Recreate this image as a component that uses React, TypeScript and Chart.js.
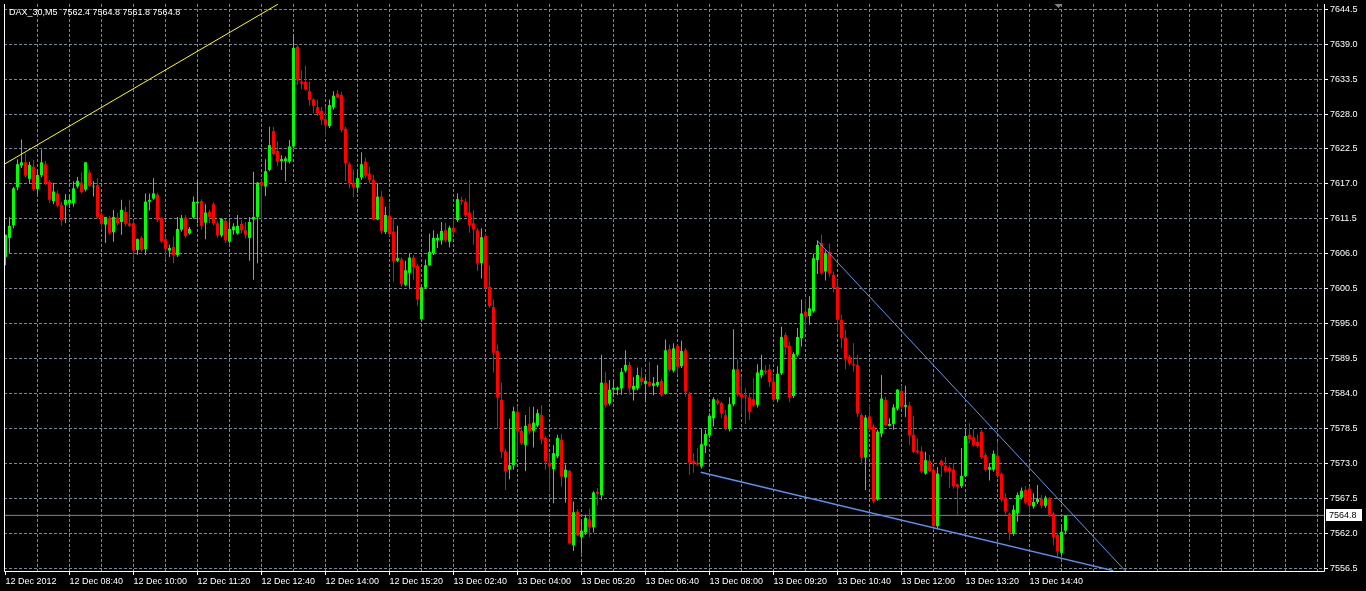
import { useEffect, useRef } from "react";
import { Chart, registerables } from "chart.js";

Chart.register(...registerables);

const symbolName = "DAX_30,M5";

const opens = [
  7605.5, 7608.5, 7610.5, 7616.5, 7619.9, 7620.4, 7617.8, 7619.7, 7616.2, 7618.4,
  7620.1, 7617.3, 7614.3, 7615.5, 7613.7, 7613.7, 7614.0, 7614.0, 7616.6, 7617.2,
  7616.1, 7618.8, 7616.6, 7616.8, 7612.2, 7610.6, 7611.6, 7609.4, 7611.7, 7611.0,
  7612.6, 7610.8, 7610.8, 7606.6, 7608.5, 7606.7, 7614.2, 7614.7, 7615.3, 7611.6,
  7608.3, 7606.5, 7607.1, 7605.8, 7609.8, 7611.7, 7609.2, 7611.7, 7614.0, 7614.3,
  7610.9, 7612.6, 7613.8, 7610.8, 7608.9, 7611.2, 7607.9, 7609.7, 7609.2, 7610.7,
  7609.7, 7608.5, 7611.4, 7611.8, 7617.3, 7616.6, 7619.2, 7625.3, 7622.2, 7620.6,
  7620.6, 7620.5, 7622.9, 7638.6, 7633.1, 7633.1, 7631.6, 7630.3, 7629.1, 7628.5,
  7627.2, 7626.1, 7629.1, 7631.2, 7631.0, 7625.7, 7620.1, 7617.2, 7616.4, 7618.0,
  7620.5, 7618.6, 7617.6, 7611.4, 7615.0, 7609.4, 7612.0, 7609.5, 7604.9, 7605.1,
  7601.1, 7603.0, 7605.4, 7604.1, 7595.7, 7600.7, 7604.2, 7606.1, 7608.1, 7608.1,
  7609.7, 7607.9, 7610.1, 7611.3, 7614.5, 7614.2, 7612.5, 7610.8, 7609.7, 7604.5,
  7608.8, 7600.8, 7597.6, 7590.7, 7583.0, 7574.9, 7572.0, 7572.7, 7581.1, 7578.1,
  7575.9, 7579.2, 7578.1, 7579.0, 7580.6, 7577.0, 7573.1, 7572.1, 7574.1, 7576.7,
  7570.8, 7571.8, 7560.1, 7565.4, 7561.4, 7562.1, 7564.2, 7562.9, 7568.5, 7568.0,
  7585.7, 7582.4, 7584.6, 7584.6, 7584.8, 7587.6, 7588.5, 7584.6, 7584.8, 7586.5,
  7585.5, 7585.8, 7585.2, 7585.3, 7586.0, 7584.0, 7591.0, 7587.6, 7591.5, 7588.3,
  7590.8, 7584.0, 7573.4, 7573.1, 7572.5, 7575.8, 7577.4, 7580.1, 7582.9, 7582.5,
  7580.6, 7578.4, 7582.3, 7587.8, 7584.0, 7583.7, 7583.4, 7583.1, 7582.2, 7586.9,
  7587.6, 7587.8, 7585.9, 7583.1, 7587.2, 7593.2, 7591.5, 7583.6, 7590.1, 7592.7,
  7596.9, 7596.2, 7597.0, 7605.0, 7607.7, 7603.2, 7606.3, 7602.7, 7600.8, 7595.6,
  7592.8, 7589.8, 7588.6, 7588.5, 7580.6, 7573.9, 7580.4, 7578.8, 7567.3, 7577.7,
  7583.0, 7578.9, 7579.2, 7581.6, 7584.4, 7581.9, 7582.1, 7577.5, 7575.0, 7574.9,
  7571.4, 7573.4, 7572.0, 7563.1, 7573.4, 7572.6, 7572.3, 7572.0, 7569.7, 7569.4,
  7571.0, 7577.5, 7577.1, 7576.4, 7578.0, 7574.3, 7572.0, 7572.0, 7574.2, 7571.3,
  7567.6, 7565.1, 7561.9, 7565.2, 7567.6, 7568.8, 7569.0, 7566.2, 7566.9, 7567.4,
  7566.3, 7567.5, 7565.1, 7561.7, 7558.9, 7562.4,
];

const highs = [
  7609.0, 7611.8, 7616.5, 7620.9, 7624.0, 7621.8, 7620.5, 7620.8, 7619.2, 7622.4,
  7620.6, 7617.6, 7617.2, 7616.0, 7614.2, 7615.4, 7615.3, 7617.4, 7618.1, 7618.8,
  7620.4, 7619.2, 7617.4, 7617.9, 7612.5, 7611.8, 7612.0, 7612.9, 7612.4, 7614.5,
  7613.4, 7614.5, 7611.3, 7608.4, 7608.8, 7615.5, 7615.5, 7617.9, 7615.6, 7611.8,
  7608.7, 7607.4, 7608.7, 7611.8, 7612.1, 7612.1, 7610.2, 7615.0, 7617.6, 7614.6,
  7613.8, 7612.9, 7614.1, 7611.1, 7611.6, 7611.5, 7611.0, 7610.8, 7612.1, 7611.3,
  7611.0, 7611.8, 7618.9, 7617.3, 7617.6, 7620.9, 7626.0, 7626.0, 7623.7, 7621.5,
  7621.3, 7623.9, 7640.6, 7638.9, 7634.9, 7635.6, 7633.1, 7630.5, 7630.3, 7629.1,
  7629.2, 7630.3, 7631.6, 7631.8, 7631.5, 7626.0, 7620.4, 7619.3, 7619.3, 7622.0,
  7621.1, 7619.7, 7618.4, 7617.1, 7615.9, 7613.4, 7614.0, 7611.6, 7610.4, 7605.4,
  7604.9, 7606.0, 7605.8, 7604.4, 7600.9, 7605.1, 7609.2, 7609.7, 7609.1, 7611.0,
  7610.9, 7610.4, 7612.1, 7615.5, 7615.0, 7614.7, 7617.6, 7612.9, 7610.0, 7610.0,
  7609.2, 7604.2, 7598.8, 7591.7, 7585.7, 7575.3, 7580.0, 7581.9, 7582.0, 7578.8,
  7580.6, 7581.9, 7581.9, 7581.5, 7582.2, 7577.3, 7574.6, 7575.9, 7577.5, 7577.6,
  7572.8, 7572.0, 7567.0, 7565.8, 7563.8, 7564.9, 7565.9, 7568.6, 7569.1, 7590.1,
  7587.4, 7586.1, 7585.9, 7585.1, 7588.0, 7590.8, 7589.0, 7586.6, 7588.1, 7588.1,
  7586.7, 7589.0, 7586.6, 7588.5, 7586.3, 7592.5, 7591.7, 7591.9, 7591.7, 7592.3,
  7591.1, 7584.3, 7574.6, 7575.4, 7578.5, 7578.3, 7580.9, 7583.4, 7583.2, 7582.7,
  7581.4, 7583.4, 7594.1, 7589.4, 7586.5, 7584.8, 7583.9, 7586.4, 7588.6, 7590.1,
  7588.5, 7588.6, 7586.9, 7588.3, 7594.5, 7593.6, 7592.2, 7590.5, 7594.3, 7598.8,
  7598.9, 7599.3, 7606.0, 7608.1, 7609.0, 7606.5, 7607.6, 7603.2, 7601.9, 7596.4,
  7594.0, 7590.1, 7591.9, 7590.1, 7580.9, 7580.6, 7582.3, 7579.1, 7578.3, 7586.9,
  7583.5, 7580.1, 7582.3, 7584.7, 7585.2, 7585.2, 7582.7, 7580.5, 7576.9, 7575.7,
  7574.8, 7574.3, 7572.3, 7572.4, 7573.6, 7574.0, 7572.7, 7573.0, 7569.8, 7575.4,
  7578.4, 7579.3, 7578.4, 7577.5, 7578.3, 7574.6, 7573.0, 7575.0, 7576.4, 7571.5,
  7568.3, 7565.2, 7566.4, 7568.4, 7569.2, 7569.4, 7569.3, 7568.3, 7569.6, 7568.0,
  7567.9, 7567.7, 7565.4, 7562.0, 7563.1, 7564.8,
];

const lows = [
  7604.2, 7606.1, 7610.0, 7616.0, 7619.5, 7618.0, 7617.0, 7615.9, 7615.4, 7618.0,
  7616.8, 7614.0, 7613.8, 7613.3, 7610.4, 7610.8, 7613.2, 7613.4, 7616.3, 7615.5,
  7615.8, 7616.5, 7615.0, 7611.5, 7610.0, 7607.7, 7609.0, 7607.9, 7610.5, 7609.0,
  7610.3, 7610.2, 7604.8, 7605.8, 7606.3, 7605.8, 7612.8, 7614.5, 7611.0, 7607.7,
  7605.1, 7605.5, 7604.5, 7605.5, 7609.5, 7608.5, 7609.0, 7611.5, 7610.8, 7609.8,
  7608.3, 7610.8, 7610.5, 7608.5, 7608.6, 7607.7, 7607.6, 7609.0, 7609.0, 7609.2,
  7608.4, 7604.9, 7601.9, 7604.5, 7611.3, 7615.1, 7619.0, 7621.5, 7619.8, 7619.2,
  7617.4, 7620.2, 7622.6, 7632.6, 7631.9, 7631.7, 7629.3, 7628.1, 7627.7, 7626.3,
  7624.4, 7625.8, 7628.7, 7630.5, 7625.1, 7617.4, 7616.3, 7614.9, 7615.6, 7617.6,
  7617.9, 7617.0, 7611.3, 7611.3, 7609.1, 7609.1, 7608.8, 7601.6, 7604.7, 7600.8,
  7600.9, 7600.4, 7601.9, 7597.8, 7595.5, 7600.4, 7604.1, 7605.8, 7606.9, 7607.4,
  7607.8, 7607.0, 7609.0, 7611.0, 7613.7, 7611.8, 7609.3, 7607.4, 7603.3, 7602.1,
  7600.3, 7597.5, 7587.3, 7578.5, 7573.8, 7568.8, 7570.5, 7572.0, 7574.1, 7575.9,
  7571.8, 7577.6, 7575.5, 7578.7, 7576.0, 7572.0, 7568.4, 7566.7, 7573.8, 7569.3,
  7566.8, 7560.2, 7559.2, 7561.5, 7558.8, 7561.7, 7561.4, 7562.1, 7566.4, 7567.2,
  7581.8, 7582.1, 7583.4, 7583.7, 7583.8, 7587.3, 7583.8, 7582.9, 7584.5, 7585.3,
  7582.6, 7585.0, 7583.7, 7585.0, 7583.5, 7583.8, 7587.4, 7587.3, 7587.0, 7588.0,
  7583.5, 7571.2, 7571.5, 7572.6, 7572.2, 7574.6, 7577.0, 7578.8, 7582.2, 7580.1,
  7578.2, 7578.0, 7582.0, 7583.5, 7580.8, 7579.2, 7579.8, 7581.9, 7581.8, 7586.4,
  7587.0, 7585.0, 7582.7, 7582.6, 7586.9, 7590.1, 7582.6, 7583.3, 7589.8, 7591.4,
  7594.1, 7594.8, 7596.7, 7602.8, 7602.7, 7601.8, 7602.3, 7599.9, 7593.7, 7591.1,
  7587.8, 7588.4, 7587.4, 7580.3, 7572.8, 7568.8, 7578.1, 7566.7, 7567.1, 7577.1,
  7578.8, 7578.8, 7578.3, 7581.3, 7581.6, 7580.3, 7575.9, 7574.6, 7574.5, 7571.4,
  7571.2, 7571.6, 7562.5, 7562.6, 7570.9, 7571.5, 7569.1, 7569.0, 7564.9, 7569.1,
  7570.8, 7576.2, 7575.6, 7575.5, 7573.7, 7571.7, 7570.3, 7571.7, 7570.7, 7567.0,
  7564.9, 7560.9, 7561.6, 7563.8, 7567.3, 7566.5, 7565.2, 7565.9, 7566.6, 7565.9,
  7566.0, 7564.6, 7560.1, 7558.3, 7558.6, 7561.8,
];

const closes = [
  7609.0, 7610.4, 7616.3, 7620.1, 7620.4, 7618.3, 7620.0, 7616.2, 7618.4, 7620.4,
  7617.1, 7614.5, 7615.8, 7613.6, 7611.3, 7614.5, 7614.5, 7616.3, 7617.5, 7615.7,
  7620.4, 7616.7, 7616.7, 7611.8, 7610.7, 7611.8, 7609.3, 7611.8, 7610.8, 7612.9,
  7610.7, 7610.4, 7606.5, 7608.3, 7606.6, 7614.2, 7614.5, 7615.5, 7611.3, 7608.0,
  7606.8, 7606.9, 7605.8, 7609.9, 7611.6, 7608.8, 7609.9, 7614.2, 7614.2, 7610.4,
  7612.5, 7611.8, 7610.8, 7608.9, 7611.5, 7608.1, 7609.9, 7610.3, 7610.4, 7609.7,
  7609.0, 7611.0, 7611.8, 7617.2, 7616.7, 7619.0, 7623.1, 7621.7, 7620.5, 7620.9,
  7621.0, 7622.9, 7638.4, 7633.3, 7632.8, 7631.9, 7630.2, 7629.3, 7628.1, 7627.1,
  7626.3, 7629.4, 7630.9, 7630.6, 7625.5, 7620.3, 7617.1, 7616.5, 7617.9, 7620.1,
  7618.3, 7617.6, 7611.4, 7615.0, 7609.6, 7612.1, 7609.1, 7604.8, 7605.3, 7601.2,
  7603.4, 7605.4, 7603.9, 7598.8, 7600.7, 7604.2, 7606.3, 7608.5, 7608.5, 7609.6,
  7608.1, 7610.1, 7609.4, 7614.6, 7614.3, 7612.1, 7610.5, 7609.9, 7604.5, 7608.6,
  7600.6, 7597.8, 7590.4, 7583.4, 7574.8, 7571.7, 7572.7, 7581.2, 7578.0, 7576.2,
  7578.9, 7578.0, 7579.4, 7580.9, 7576.8, 7573.3, 7572.5, 7574.6, 7577.0, 7570.9,
  7572.0, 7560.4, 7565.3, 7561.7, 7562.4, 7564.4, 7562.9, 7568.4, 7568.2, 7585.7,
  7582.2, 7584.6, 7584.9, 7584.9, 7587.4, 7588.5, 7584.8, 7585.2, 7586.9, 7585.8,
  7586.0, 7585.2, 7585.6, 7585.8, 7583.8, 7590.8, 7587.7, 7591.1, 7588.2, 7590.7,
  7584.3, 7573.1, 7573.0, 7572.8, 7576.0, 7577.6, 7580.5, 7583.1, 7582.5, 7580.9,
  7578.5, 7582.3, 7587.8, 7583.8, 7583.4, 7583.5, 7581.1, 7582.2, 7587.3, 7587.7,
  7587.3, 7585.8, 7583.0, 7587.1, 7592.9, 7591.3, 7583.4, 7590.2, 7592.9, 7596.6,
  7596.1, 7597.4, 7605.3, 7607.4, 7603.0, 7606.1, 7602.9, 7600.6, 7595.6, 7592.7,
  7589.4, 7588.8, 7588.4, 7580.9, 7573.9, 7580.2, 7578.4, 7567.0, 7578.0, 7583.2,
  7579.0, 7579.2, 7581.8, 7584.6, 7581.9, 7582.2, 7577.4, 7574.8, 7574.7, 7571.7,
  7573.5, 7571.8, 7563.1, 7571.4, 7572.7, 7571.8, 7571.7, 7569.4, 7569.3, 7571.0,
  7577.3, 7576.8, 7575.9, 7575.7, 7574.0, 7572.0, 7572.4, 7574.5, 7571.0, 7567.3,
  7565.4, 7562.1, 7565.7, 7568.0, 7568.7, 7566.8, 7566.3, 7566.9, 7567.4, 7566.4,
  7567.6, 7564.9, 7561.4, 7559.1, 7562.2, 7564.8,
];

const xTickLabels = [
  "12 Dec 2012", "12 Dec 08:40", "12 Dec 10:00", "12 Dec 11:20", "12 Dec 12:40",
  "12 Dec 14:00", "12 Dec 15:20", "13 Dec 02:40", "13 Dec 04:00", "13 Dec 05:20",
  "13 Dec 06:40", "13 Dec 08:00", "13 Dec 09:20", "13 Dec 10:40", "13 Dec 12:00",
  "13 Dec 13:20", "13 Dec 14:40",
];

const yTickValues = [
  7556.5, 7562.0, 7567.5, 7573.0, 7578.5, 7584.0, 7589.5, 7595.0, 7600.5,
  7606.0, 7611.5, 7617.0, 7622.5, 7628.0, 7633.5, 7639.0, 7644.5,
];

const yMin = 7556.04;
const yMax = 7645.33;
const xMin = -0.375;
const xSlots = 330;
const gridEveryBars = 8;
const labelEveryBars = 16;

const yellowTrend = [
  { x: -0.3, y: 7620.1 },
  { x: 68.1, y: 7645.3 },
];
const upperTrend = [
  { x: 202.95, y: 7608.06 },
  { x: 279.9, y: 7556.09 },
];
const lowerTrend = [
  { x: 173.8, y: 7571.58 },
  { x: 276.95, y: 7556.1 },
];
const shiftMarkerBar = 263;

const FONT = '"Liberation Sans", Arial, sans-serif';
const GRID = "#778899";
const BULL = "#00ff00";
const BEAR = "#ff0000";

export default function App() {
  const ref = useRef<HTMLCanvasElement | null>(null);

  useEffect(() => {
    document.body.style.margin = "0";
    document.body.style.background = "#000";
    const canvas = ref.current;
    if (!canvas) return;

    const n = closes.length;
    const last = n - 1;
    const colors = closes.map((c, i) => (c >= opens[i] ? BULL : BEAR));
    const bodies = closes.map((c, i) => ({ x: i, y: [opens[i], c] }));
    const wicks = closes.map((_, i) => ({ x: i, y: [lows[i], highs[i]] }));
    const bid = closes[last];
    const xMax = xMin + xSlots;
    const gridValues: number[] = [];
    for (let v = 0; v < xMax; v += gridEveryBars) gridValues.push(v);

    const decor = {
      id: "mt4decor",
      beforeDraw(chart: any) {
        const c = chart.ctx;
        c.save();
        c.fillStyle = "#000";
        c.fillRect(0, 0, chart.width, chart.height);
        c.restore();
      },
      afterDraw(chart: any) {
        const c = chart.ctx;
        const a = chart.chartArea;
        const ys = chart.scales.y;
        const xs = chart.scales.x;
        c.save();
        // frame
        c.strokeStyle = "#fff";
        c.lineWidth = 1;
        c.beginPath();
        c.moveTo(a.left + 0.5, a.top);
        c.lineTo(a.left + 0.5, a.bottom + 0.5);
        c.lineTo(a.right + 0.5, a.bottom + 0.5);
        c.lineTo(a.right + 0.5, a.top);
        c.stroke();
        // title
        c.fillStyle = "#fff";
        c.font = `9px ${FONT}`;
        c.textBaseline = "middle";
        c.textAlign = "left";
        const t = `${symbolName}  ${opens[last].toFixed(1)} ${highs[last].toFixed(1)} ${lows[last].toFixed(1)} ${closes[last].toFixed(1)}`;
        c.fillText(t, a.left + 5, a.top + 9);
        // bid label
        const by = Math.round(ys.getPixelForValue(bid));
        c.fillStyle = "#fff";
        c.fillRect(a.right + 2, by - 6, 36, 12);
        c.fillStyle = "#000";
        c.fillText(bid.toFixed(1), a.right + 5, by + 0.5);
        // chart shift marker
        const sx = Math.round(xs.getPixelForValue(shiftMarkerBar)) + 0.5;
        c.fillStyle = "#808080";
        c.beginPath();
        c.moveTo(sx - 4, a.top);
        c.lineTo(sx + 4, a.top);
        c.lineTo(sx, a.top + 4);
        c.closePath();
        c.fill();
        c.restore();
      },
    };

    const chart = new Chart(canvas, {
      type: "bar",
      data: {
        datasets: [
          {
            type: "line",
            data: yellowTrend,
            borderColor: "#ffff00",
            borderWidth: 1,
            pointRadius: 0,
            fill: false,
            tension: 0,
          } as any,
          {
            type: "line",
            data: upperTrend,
            borderColor: "#6495ed",
            borderWidth: 1,
            pointRadius: 0,
            fill: false,
            tension: 0,
          } as any,
          {
            type: "line",
            data: lowerTrend,
            borderColor: "#5b8ff0",
            borderWidth: 1.5,
            pointRadius: 0,
            fill: false,
            tension: 0,
          } as any,
          {
            type: "bar",
            data: bodies,
            backgroundColor: colors,
            barThickness: 3,
            grouped: false,
            borderWidth: 0,
            inflateAmount: 0,
          } as any,
          {
            type: "bar",
            data: wicks,
            backgroundColor: colors,
            barThickness: 1,
            grouped: false,
            borderWidth: 0,
            inflateAmount: 0,
          } as any,
          {
            type: "line",
            data: [
              { x: xMin, y: bid },
              { x: xMax, y: bid },
            ],
            borderColor: GRID,
            borderWidth: 1,
            pointRadius: 0,
            fill: false,
          } as any,
        ],
      },
      options: {
        animation: false,
        responsive: false,
        maintainAspectRatio: false,
        layout: { padding: { left: 4, top: 4, right: 0, bottom: 0 } },
        plugins: {
          legend: { display: false },
          tooltip: { enabled: false },
        },
        events: [],
        scales: {
          x: {
            type: "linear",
            min: xMin,
            max: xMax,
            bounds: "data",
            offset: false,
            afterBuildTicks: (s: any) => {
              s.ticks = gridValues.map((v) => ({ value: v }));
            },
            afterFit: (s: any) => {
              s.height = 20;
              s.paddingLeft = 0;
              s.paddingRight = 0;
            },
            grid: {
              offset: false,
              color: (ctx: any) => (ctx.tick && ctx.tick.value === 0 ? "rgba(0,0,0,0)" : GRID),
              lineWidth: 1,
              drawTicks: true,
              tickLength: 4,
              tickWidth: 1,
              tickColor: (ctx: any) => {
                const v = ctx.tick ? ctx.tick.value : -1;
                return v % labelEveryBars === 0 && v / labelEveryBars < xTickLabels.length ? "#fff" : "rgba(0,0,0,0)";
              },
            },
            border: { display: false, dash: [3, 2] },
            ticks: {
              autoSkip: false,
              maxRotation: 0,
              minRotation: 0,
              align: "start",
              padding: 1,
              color: "#fff",
              font: { family: FONT, size: 9 },
              callback: (v: any) => {
                const k = Number(v);
                if (k % labelEveryBars !== 0) return "";
                return xTickLabels[k / labelEveryBars] ?? "";
              },
            },
          } as any,
          y: {
            type: "linear",
            position: "right",
            min: yMin,
            max: yMax,
            bounds: "data",
            afterBuildTicks: (s: any) => {
              s.ticks = yTickValues.map((v) => ({ value: v }));
            },
            afterFit: (s: any) => {
              s.width = 42;
              s.paddingTop = 0;
              s.paddingBottom = 0;
            },
            grid: {
              color: GRID,
              lineWidth: 1,
              drawTicks: true,
              tickLength: 4,
              tickWidth: 1,
              tickColor: "#fff",
            },
            border: { display: false, dash: [3, 2] },
            ticks: {
              autoSkip: false,
              padding: 2,
              color: "#fff",
              font: { family: FONT, size: 9 },
              callback: (v: any) => Number(v).toFixed(1),
            },
          } as any,
        },
      } as any,
      plugins: [decor],
    });

    return () => chart.destroy();
  }, []);

  return (
    <div style={{ width: 1366, height: 591, background: "#000" }}>
      <canvas ref={ref} width={1366} height={591} style={{ width: 1366, height: 591, display: "block" }} />
    </div>
  );
}
